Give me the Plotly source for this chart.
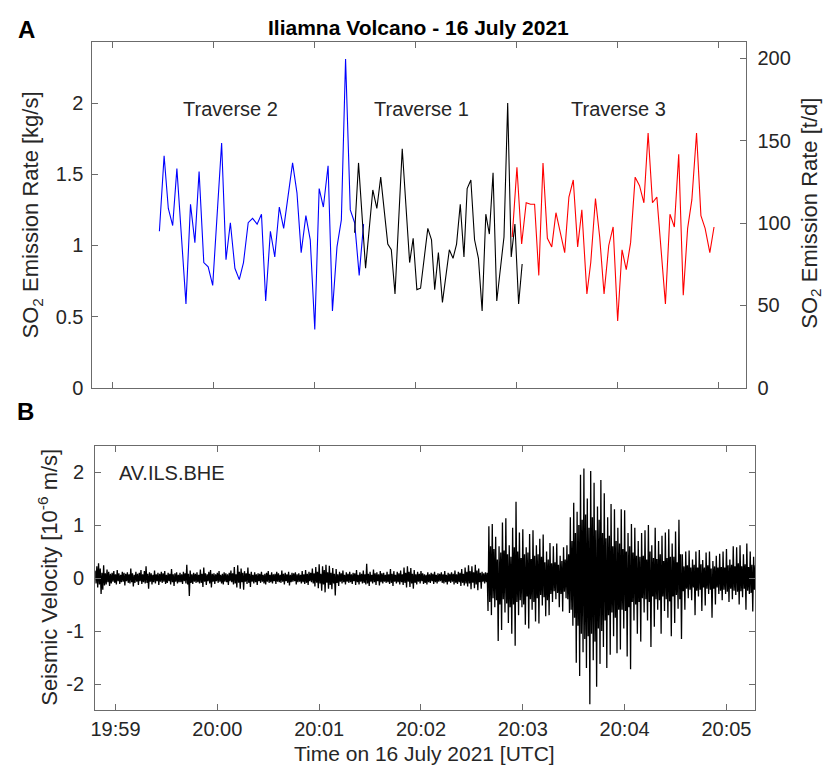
import pandas as pd
import plotly.graph_objects as go

# ---------------- data ----------------
BASE = "2021-07-16 19:59:00"

# Traverse 2 (blue): seconds after 19:59:00, SO2 in kg/s
t2_sec = [27.8, 30.6, 33.1, 35.7, 38.2, 43.6, 46.3, 48.9, 51.4, 54.2,
          56.8, 59.5, 64.8, 67.4, 70.0, 72.7, 75.3, 77.8, 80.6, 83.2,
          85.9, 88.5, 91.0, 93.8, 96.4, 99.1, 101.7, 107.0, 109.6, 112.1,
          114.9, 117.5, 120.2, 122.8, 125.3, 128.1, 130.7, 133.4, 136.0, 138.5,
          141.3, 143.9, 146.6, 149.2]
t2_val = [1.10, 1.63, 1.26, 1.14, 1.54, 0.59, 1.29, 1.02, 1.52, 0.88,
          0.85, 0.72, 1.72, 0.90, 1.16, 0.84, 0.76, 0.88, 1.16, 1.19,
          1.15, 1.22, 0.61, 1.10, 0.92, 1.27, 1.12, 1.58, 1.37, 0.95,
          1.21, 1.04, 0.41, 1.40, 1.27, 1.56, 0.54, 0.99, 1.18, 2.31,
          1.25, 1.16, 0.79, 1.15]

# Traverse 1 (black)
t1_sec = [143.9, 146.2, 150.4, 154.7, 157.1, 159.4, 163.6, 165.7, 167.9, 172.2,
          176.6, 178.7, 180.9, 183.1, 187.4, 189.6, 191.5, 193.7, 196.1, 200.2,
          202.4, 204.5, 206.7, 208.9, 210.8, 213.0, 215.2, 217.5, 219.7, 221.9,
          224.0, 226.2, 228.4, 232.7, 234.9, 237.0, 239.2, 241.4, 243.5]
t1_val = [1.09, 1.58, 0.84, 1.39, 1.26, 1.48, 1.01, 0.97, 0.66, 1.68,
          0.88, 1.05, 0.69, 0.70, 1.12, 1.04, 0.69, 0.95, 0.60, 0.97,
          0.91, 1.01, 1.29, 0.92, 1.40, 1.46, 1.04, 0.91, 0.54, 1.22,
          1.08, 1.51, 0.61, 1.06, 2.00, 0.92, 1.15, 0.59, 0.87]

# Traverse 3 (red)
t3_sec = [237.6, 240.4, 243.2, 245.9, 248.5, 250.9, 253.4, 255.9, 258.5, 261.1,
          263.6, 268.8, 271.3, 273.9, 276.5, 279.0, 282.0, 284.3, 287.1, 289.6,
          292.2, 295.0, 297.6, 300.3, 302.9, 305.4, 308.0, 310.7, 313.3, 315.9,
          318.4, 321.0, 323.6, 326.1, 328.7, 331.4, 334.0, 336.6, 339.3, 341.9,
          344.4, 347.2, 349.8, 352.3, 355.1, 357.6]
t3_val = [1.06, 1.55, 1.01, 1.30, 1.29, 1.29, 0.79, 1.58, 1.05, 0.99,
          1.23, 0.95, 1.34, 1.46, 0.99, 1.25, 0.66, 0.88, 1.33, 1.06,
          0.66, 1.00, 1.13, 0.47, 0.97, 0.83, 1.02, 1.48, 1.42, 1.30,
          1.79, 1.30, 1.34, 0.97, 0.59, 1.22, 1.13, 1.64, 0.65, 1.12,
          1.32, 1.79, 1.21, 1.12, 0.95, 1.13]

# Seismic trace AV.ILS.BHE (1e-6 m/s): swing values read every 0.5 s from -12 s
seis_start_sec = -12
seis_step_sec = 0.5
seis_val = [
    0.14, -0.10, 0.22, -0.18, 0.28, -0.12, 0.18, -0.30, 0.10, -0.22, 0.24, -0.14, 0.09, -0.12, 0.16, -0.08, 0.12, -0.15, 0.08, -0.10,
    0.10, -0.07, 0.13, -0.09, 0.07, -0.12, 0.15, -0.06, 0.09, -0.11, 0.06, -0.08, 0.12, -0.07, 0.10, -0.14, 0.08, -0.06, 0.11, -0.09,
    0.07, -0.10, 0.18, -0.08, 0.09, -0.16, 0.06, -0.09, 0.12, -0.07, 0.08, -0.13, 0.10, -0.06, 0.15, -0.11, 0.07, -0.08, 0.13, -0.10,
    0.22, -0.09, 0.08, -0.20, 0.11, -0.07, 0.09, -0.12, 0.06, -0.08, 0.14, -0.10, 0.07, -0.06, 0.10, -0.13, 0.08, -0.07, 0.12, -0.09,
    0.09, -0.07, 0.13, -0.11, 0.06, -0.09, 0.10, -0.06, 0.08, -0.12, 0.17, -0.08, 0.07, -0.15, 0.09, -0.07, 0.11, -0.10, 0.06, -0.08,
    0.10, -0.08, 0.07, -0.11, 0.12, -0.06, 0.09, -0.10, 0.25, -0.12, 0.08, -0.34, 0.14, -0.09, 0.07, -0.11, 0.10, -0.07, 0.08, -0.09,
    0.11, -0.08, 0.06, -0.10, 0.16, -0.09, 0.08, -0.17, 0.20, -0.07, 0.09, -0.13, 0.07, -0.06, 0.12, -0.10, 0.15, -0.18, 0.08, -0.07,
    0.09, -0.11, 0.07, -0.06, 0.10, -0.09, 0.13, -0.07, 0.06, -0.10, 0.08, -0.12, 0.11, -0.07, 0.09, -0.08, 0.07, -0.13, 0.10, -0.06,
    0.14, -0.08, 0.09, -0.12, 0.21, -0.10, 0.07, -0.18, 0.24, -0.09, 0.12, -0.20, 0.18, -0.08, 0.10, -0.22, 0.13, -0.07, 0.09, -0.11,
    0.20, -0.09, 0.08, -0.17, 0.12, -0.07, 0.06, -0.10, 0.11, -0.08, 0.07, -0.13, 0.09, -0.06, 0.08, -0.09, 0.12, -0.07, 0.06, -0.10,
    0.08, -0.12, 0.10, -0.07, 0.13, -0.09, 0.06, -0.08, 0.11, -0.10, 0.07, -0.06, 0.08, -0.11, 0.12, -0.07, 0.09, -0.08, 0.06, -0.09,
    0.14, -0.07, 0.08, -0.12, 0.10, -0.06, 0.07, -0.09, 0.12, -0.14, 0.06, -0.08, 0.10, -0.07, 0.09, -0.06, 0.11, -0.12, 0.07, -0.08,
    0.09, -0.07, 0.06, -0.10, 0.13, -0.08, 0.07, -0.11, 0.15, -0.09, 0.08, -0.13, 0.12, -0.06, 0.10, -0.08, 0.18, -0.10, 0.09, -0.16,
    0.21, -0.09, 0.12, -0.19, 0.26, -0.10, 0.08, -0.24, 0.22, -0.12, 0.15, -0.27, 0.25, -0.09, 0.11, -0.20, 0.23, -0.13, 0.10, -0.21,
    0.19, -0.10, 0.08, -0.33, 0.17, -0.09, 0.07, -0.15, 0.12, -0.07, 0.09, -0.10, 0.14, -0.08, 0.06, -0.12, 0.11, -0.07, 0.08, -0.09,
    0.12, -0.08, 0.07, -0.11, 0.10, -0.06, 0.09, -0.13, 0.15, -0.08, 0.06, -0.12, 0.11, -0.07, 0.08, -0.10, 0.14, -0.09, 0.07, -0.12,
    0.27, -0.10, 0.08, -0.15, 0.12, -0.07, 0.06, -0.10, 0.16, -0.08, 0.09, -0.13, 0.11, -0.06, 0.07, -0.14, 0.13, -0.08, 0.09, -0.10,
    0.10, -0.07, 0.06, -0.09, 0.12, -0.08, 0.07, -0.11, 0.17, -0.09, 0.08, -0.15, 0.13, -0.07, 0.06, -0.10, 0.12, -0.08, 0.09, -0.12,
    0.14, -0.08, 0.07, -0.13, 0.20, -0.09, 0.10, -0.18, 0.22, -0.07, 0.12, -0.17, 0.19, -0.10, 0.08, -0.20, 0.15, -0.09, 0.07, -0.12,
    0.12, -0.07, 0.08, -0.10, 0.13, -0.06, 0.09, -0.11, 0.07, -0.09, 0.06, -0.12, 0.11, -0.08, 0.07, -0.09, 0.10, -0.06, 0.08, -0.11,
    0.12, -0.08, 0.06, -0.10, 0.09, -0.07, 0.08, -0.06, 0.11, -0.09, 0.07, -0.10, 0.13, -0.08, 0.06, -0.12, 0.10, -0.07, 0.08, -0.09,
    0.11, -0.07, 0.08, -0.12, 0.14, -0.09, 0.07, -0.11, 0.12, -0.08, 0.10, -0.15, 0.17, -0.09, 0.08, -0.14, 0.20, -0.10, 0.12, -0.16,
    0.24, -0.10, 0.13, -0.21, 0.22, -0.09, 0.11, -0.19, 0.25, -0.12, 0.14, -0.23, 0.18, -0.08, 0.10, -0.20, 0.12, -0.07, 0.09, -0.10,
    0.11, -0.08, 0.10, -0.62, 0.98, -0.45, 0.60, -0.70, 1.02, -0.38, 0.55, -0.55, 0.78, -0.42, 0.35, -1.19, 0.60, -0.50, 0.48, -0.98,
    1.05, -0.40, 0.52, -0.65, 1.13, -0.48, 0.45, -0.85, 0.62, -0.55, 0.40, -1.05, 0.95, -0.50, 0.58, -1.28, 1.44, -0.45, 0.50, -0.70,
    0.86, -0.42, 0.38, -0.55, 0.92, -0.50, 0.45, -0.88, 0.58, -0.35, 0.48, -0.95, 0.83, -0.40, 0.36, -0.60, 0.90, -0.45, 0.42, -0.82,
    0.62, -0.38, 0.45, -0.86, 0.74, -0.32, 0.40, -0.52, 0.82, -0.36, 0.30, -0.72, 0.50, -0.42, 0.35, -0.70, 0.66, -0.30, 0.28, -0.45,
    0.60, -0.25, 0.30, -0.40, 0.65, -0.28, 0.25, -0.55, 0.42, -0.30, 0.32, -0.63, 0.58, -0.26, 0.35, -0.38, 0.62, -0.40, 0.45, -0.66,
    1.15, -0.60, 0.70, -0.90, 1.42, -0.75, 0.85, -1.60, 1.25, -0.90, 1.00, -1.85, 1.95, -1.05, 1.10, -1.40, 2.07, -1.15, 1.20, -1.70,
    1.50, -1.10, 0.95, -2.38, 2.02, -1.05, 1.15, -1.55, 1.80, -1.20, 0.90, -2.05, 1.35, -0.95, 1.10, -1.62, 1.85, -1.00, 0.85, -1.30,
    1.60, -0.80, 0.75, -1.70, 1.15, -0.70, 0.80, -1.45, 1.40, -0.65, 0.60, -1.10, 1.30, -0.75, 0.70, -1.42, 0.95, -0.60, 0.65, -1.35,
    1.30, -0.60, 0.55, -0.95, 1.28, -0.62, 0.50, -1.48, 0.85, -0.55, 0.60, -1.72, 1.02, -0.45, 0.48, -0.80, 0.95, -0.50, 0.42, -1.05,
    0.70, -0.45, 0.40, -1.20, 0.85, -0.38, 0.42, -0.65, 0.90, -0.40, 0.35, -0.80, 1.00, -0.45, 0.50, -1.30, 0.62, -0.35, 0.38, -0.92,
    0.95, -0.40, 0.36, -0.60, 0.70, -0.42, 0.45, -1.05, 0.80, -0.35, 0.32, -0.62, 0.86, -0.40, 0.38, -0.75, 0.92, -0.44, 0.40, -1.10,
    0.65, -0.35, 0.40, -0.85, 0.88, -0.32, 0.30, -0.58, 1.10, -0.40, 0.45, -1.15, 0.45, -0.25, 0.22, -0.60, 0.50, -0.20, 0.24, -0.38,
    0.52, -0.22, 0.20, -0.42, 0.35, -0.18, 0.25, -0.70, 0.50, -0.24, 0.20, -0.35, 0.53, -0.22, 0.26, -0.62, 0.34, -0.18, 0.20, -0.52,
    0.48, -0.20, 0.24, -0.30, 0.50, -0.22, 0.18, -0.75, 0.32, -0.20, 0.22, -0.50, 0.42, -0.18, 0.20, -0.30, 0.46, -0.24, 0.21, -0.42,
    0.50, -0.22, 0.20, -0.30, 0.55, -0.26, 0.24, -0.45, 0.35, -0.20, 0.25, -0.40, 0.60, -0.24, 0.22, -0.32, 0.58, -0.26, 0.28, -0.50,
    0.62, -0.25, 0.22, -0.36, 0.45, -0.20, 0.26, -0.60, 0.65, -0.24, 0.21, -0.30, 0.50, -0.28, 0.25, -0.63, 0.40, -0.22, 0.24, -0.40,
]

so2_ticks = [0, 0.5, 1, 1.5, 2]
td_ticks = [0, 50, 100, 150, 200]
seis_ticks = [-2, -1, 0, 1, 2]
KGS_TO_TD = 86.4

# ---------------- helpers ----------------
base = pd.Timestamp(BASE)
def to_time(sec):
    return list(base + pd.to_timedelta(pd.Series(sec, dtype=float), unit="s"))

seis_sec = [seis_start_sec + i * seis_step_sec for i in range(len(seis_val))]

W, H = 827, 776
def px(x):
    return x / W
def py(y):
    # vertical position given in screenshot pixels
    return 1 - ((y + 1.5) / 0.99) / H

FONT = "Liberation Sans, Arial, Helvetica, sans-serif"
TXT = "#262626"
AX = "#6b6b6b"

x_range = [base + pd.Timedelta(seconds=-12.0), base + pd.Timedelta(seconds=376.9)]
so2_max = 2.427

fig = go.Figure()
fig.add_trace(go.Scatter(x=to_time(t2_sec), y=t2_val, mode="lines",
                         line=dict(color="#0000ff", width=1.1), xaxis="x", yaxis="y"))
fig.add_trace(go.Scatter(x=to_time(t1_sec), y=t1_val, mode="lines",
                         line=dict(color="#000000", width=1.1), xaxis="x", yaxis="y"))
fig.add_trace(go.Scatter(x=to_time(t3_sec), y=t3_val, mode="lines",
                         line=dict(color="#ff0000", width=1.1), xaxis="x", yaxis="y"))
# same traverse in t/d on the right axis (transparent, only carries the axis)
fig.add_trace(go.Scatter(x=to_time(t3_sec), y=[v * KGS_TO_TD for v in t3_val], mode="lines",
                         line=dict(color="rgba(0,0,0,0)", width=0), hoverinfo="skip",
                         xaxis="x", yaxis="y2"))

fig.add_trace(go.Scatter(x=to_time(seis_sec), y=seis_val, mode="lines",
                         line=dict(color="#000000", width=1.3), xaxis="x2", yaxis="y3"))

common_ax = dict(showline=True, linecolor=AX, linewidth=1, ticks="inside",
                 tickcolor=AX, ticklen=6, tickwidth=1, showgrid=False, zeroline=False,
                 tickfont=dict(family=FONT, size=20, color=TXT))

fig.update_layout(
    width=W, height=H,
    margin=dict(l=0, r=0, t=0, b=0),
    paper_bgcolor="white", plot_bgcolor="white",
    showlegend=False,
    xaxis=dict(type="date", domain=[px(88), px(746)], anchor="y", range=x_range,
               tick0=BASE, dtick=60000, showticklabels=False, mirror="ticks",
               **common_ax),
    yaxis=dict(domain=[py(388), py(41)], range=[0, so2_max], tickvals=so2_ticks,
               ticktext=[f"{v:g}" for v in so2_ticks], anchor="x",
               ticklabelstandoff=4, **common_ax),
    yaxis2=dict(overlaying="y", side="right", anchor="x",
                range=[0, so2_max * KGS_TO_TD], tickvals=td_ticks,
                ticktext=[str(v) for v in td_ticks], ticklabelstandoff=6, **common_ax),
    xaxis2=dict(type="date", domain=[px(90.7), px(754.7)], anchor="y3", range=x_range,
                tick0=BASE, dtick=60000, tickformat="%H:%M", mirror="ticks",
                ticklabelstandoff=1, **common_ax),
    yaxis3=dict(domain=[py(712), py(446)], range=[-2.5, 2.5], tickvals=seis_ticks,
                ticktext=[str(v) for v in seis_ticks], anchor="x2", mirror="ticks",
                ticklabelstandoff=6, **common_ax),
)

ann = []
def add(text, x, y, size, bold=False, angle=0, xanchor="center"):
    ann.append(dict(text=f"<b>{text}</b>" if bold else text, x=px(x), y=py(y),
                    xref="paper", yref="paper", showarrow=False, textangle=angle,
                    xanchor=xanchor, yanchor="middle",
                    font=dict(family=FONT, size=size, color="#000000" if bold else TXT)))

add("Iliamna Volcano - 16 July 2021", 416, 26, 21, bold=True)
add("A", 22, 28, 24, bold=True)
add("B", 21, 412, 24, bold=True)
add("Traverse 2", 227, 108, 20)
add("Traverse 1", 419, 108, 20)
add("Traverse 3", 617, 108, 20)
add("AV.ILS.BHE", 168, 474, 20)
add("SO<sub>2</sub> Emission Rate [kg/s]", 27, 214, 22, angle=-90)
add("SO<sub>2</sub> Emission Rate [t/d]", 810, 213, 22, angle=-90)
add("Seismic Velocity [10<sup>-6</sup> m/s]", 43, 578, 22, angle=-90)
add("Time on 16 July 2021 [UTC]", 422, 754.9, 21)
fig.update_layout(annotations=ann)

fig.write_html(
    "out.html",
    config={"displayModeBar": False},
    post_script=("document.documentElement.style.margin='0';"
                 "document.body.style.margin='0';"
                 "document.body.style.overflow='hidden';"
                 "document.documentElement.style.overflow='hidden';"),
)
